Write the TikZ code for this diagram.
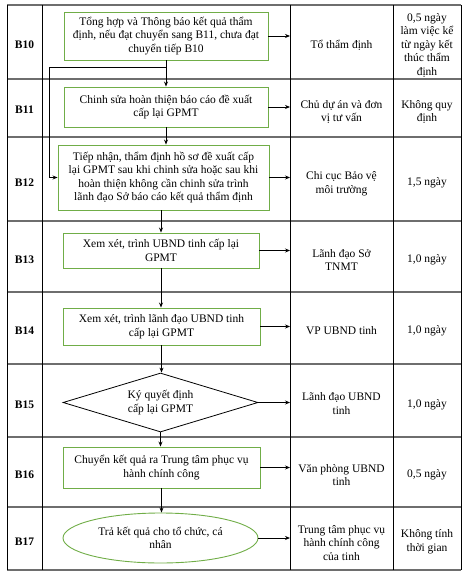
\documentclass[tikz,border=0pt]{standalone}
\usepackage{fontspec}
\setmainfont{Liberation Serif}
\usetikzlibrary{positioning, arrows.meta, shapes.geometric}
\definecolor{leafgreen}{HTML}{70AD47}
\definecolor{rulegrey}{HTML}{6E6E6E}

\begin{document}
\begin{tikzpicture}[
  x=1pt, y=-1pt,
  arr/.style={-{Stealth[length=5pt, width=4pt]}, line width=0.8pt},
  link/.style={line width=0.8pt},
  vrule/.style={line width=0.8pt, draw=black},
  hrule/.style={line width=1.1pt, draw=rulegrey},
  stepbox/.style={
    rectangle, draw=leafgreen, line width=0.9pt,
    align=center, inner sep=1pt,
    font=\fontsize{11.5}{13.5}\selectfont
  },
  stepdiamond/.style={
    diamond, draw=black, line width=0.8pt, aspect=3.3,
    align=center, inner sep=1pt,
    font=\fontsize{11.5}{13.5}\selectfont
  },
  stepend/.style={
    ellipse, draw=leafgreen, line width=0.9pt,
    align=center, inner sep=1pt,
    font=\fontsize{11.5}{13.5}\selectfont
  },
  rowlbl/.style={font=\fontsize{11.5}{13.5}\selectfont\bfseries, inner sep=0pt},
  celltxt/.style={align=center, inner sep=0pt,
    font=\fontsize{11.5}{13.5}\selectfont}
]
\useasboundingbox (0,0) rectangle (466,577);

%% columns: label 7-42, flow 42-290, who 290-393, time 393-461
%% rows: 5, 79, 137, 221, 292, 364, 437, 507, 570

%% ─── TABLE GRID ──────────────────────────────────────────────
\coordinate (whocol) at (290,0);
\draw[hrule] (7,5) -- (461,5);
\draw[hrule] (7,79) -- (461,79);
\draw[hrule] (7,137) -- (461,137);
\draw[hrule] (7,221) -- (461,221);
\draw[hrule] (7,292) -- (461,292);
\draw[hrule] (7,364) -- (461,364);
\draw[hrule] (7,437) -- (461,437);
\draw[hrule] (7,507) -- (461,507);
\draw[hrule] (7,570) -- (461,570);
\draw[vrule] (7,5) -- (7,570);
\draw[vrule] (42,5) -- (42,570);
\draw[vrule] (290,5) -- (290,570);
\draw[vrule] (393,5) -- (393,570);
\draw[vrule] (461,5) -- (461,570);

%% ─── STEP LABELS ─────────────────────────────────────────────
\node[rowlbl] (lbl10) at (24.5,45) {B10};
\node[rowlbl] (lbl11) at (24.5,110) {B11};
\node[rowlbl] (lbl12) at (24.5,183) {B12};
\node[rowlbl] (lbl13) at (24.5,260) {B13};
\node[rowlbl] (lbl14) at (24.5,331) {B14};
\node[rowlbl] (lbl15) at (24.5,405) {B15};
\node[rowlbl] (lbl16) at (24.5,475) {B16};
\node[rowlbl] (lbl17) at (24.5,542) {B17};

%% ─── FLOW COLUMN ─────────────────────────────────────────────
\node[stepbox, minimum width=204pt, minimum height=48pt] (b10) at (166,36)
  {Tổng hợp và Thông báo kết quả thẩm\\định, nếu đạt chuyển sang B11, chưa đạt\\chuyển tiếp B10};
\node[stepbox, minimum width=204pt, minimum height=40pt] (b11) at (166,107)
  {Chinh sửa hoàn thiện báo cáo đề xuất\\cấp lại GPMT};
\node[stepbox, minimum width=211pt, minimum height=65pt] (b12) at (163.5,177.5)
  {Tiếp nhận, thẩm định hồ sơ đề xuất cấp\\lại GPMT sau khi chinh sửa hoặc sau khi\\hoàn thiện không cần chinh sửa trình\\lãnh đạo Sở báo cáo kết quả thẩm định};
\node[stepbox, minimum width=196pt, minimum height=35pt] (b13) at (161,250.5)
  {Xem xét, trình UBND tinh cấp lại\\GPMT};
\node[stepbox, minimum width=197pt, minimum height=37pt] (b14) at (161.5,326.5)
  {Xem xét, trình lãnh đạo UBND tinh\\cấp lại GPMT};
\node[stepdiamond, minimum width=195pt, minimum height=59pt] (b15) at (160.5,402.5)
  {Ký quyết định\\cấp lại GPMT};
\node[stepbox, minimum width=197pt, minimum height=41pt] (b16) at (161.5,467.5)
  {Chuyển kết quả ra Trung tâm phục vụ\\hành chính công};
\node[stepend, minimum width=195pt, minimum height=50pt] (b17) at (160.5,538)
  {Trả kết quả cho tổ chức, cá\\nhân};

\draw[arr] (b10.south) -- (b11.north);
\draw[arr] (b11.south) -- (b11.south |- b12.north);
\draw[arr] (b12.south -| b13.north) -- (b13.north);
\draw[arr] (b13.south) -- (b13.south |- b14.north);
\draw[arr] (b14.south) -- (b14.south |- b15.north);
\draw[arr] (b15.south) -- (b15.south |- b16.north);
\draw[arr] (b16.south) -- (b16.south |- b17.north);

%% loop back: B10 -> B12 when no revision is needed
\coordinate (loopturn) at (49,67);
\draw[arr] (b10.south |- loopturn) -- (loopturn) |- (b12.west);

%% ─── RESPONSIBLE COLUMN ──────────────────────────────────────
\node[celltxt] (who10) at (341.5,45) {Tổ thẩm định};
\node[celltxt] (who11) at (341.5,112) {Chủ dự án và đơn\\vị tư vấn};
\node[celltxt] (who12) at (341.5,183.5) {Chi cục Bảo vệ\\môi trường};
\node[celltxt] (who13) at (341.5,260) {Lãnh đạo Sở\\TNMT};
\node[celltxt] (who14) at (341.5,331) {VP UBND tinh};
\node[celltxt] (who15) at (341.5,403.5) {Lãnh đạo UBND\\tinh};
\node[celltxt] (who16) at (341.5,475) {Văn phòng UBND\\tinh};
\node[celltxt] (who17) at (341.5,543) {Trung tâm phục vụ\\hành chính công\\của tinh};

\draw[arr] (b10.east) -- (b10.east -| whocol);
\draw[arr] (b11.east) -- (b11.east -| whocol);
\draw[arr] (b12.east) -- (b12.east -| whocol);
\draw[arr] (b13.east) -- (b13.east -| whocol);
\draw[arr] (b14.east) -- (b14.east -| whocol);
\draw[arr] (b15.east) -- (b15.east -| whocol);
\draw[arr] (b16.east) -- (b16.east -| whocol);
\draw[arr] (b17.east) -- (b17.east -| whocol);

%% ─── TIME COLUMN ─────────────────────────────────────────────
\node[celltxt] (time10) at (427,45) {0,5 ngày\\làm việc kể\\từ ngày kết\\thúc thẩm\\định};
\node[celltxt] (time11) at (427,112) {Không quy\\định};
\node[celltxt] (time12) at (427,183) {1,5 ngày};
\node[celltxt] (time13) at (427,260) {1,0 ngày};
\node[celltxt] (time14) at (427,331) {1,0 ngày};
\node[celltxt] (time15) at (427,405) {1,0 ngày};
\node[celltxt] (time16) at (427,475) {0,5 ngày};
\node[celltxt] (time17) at (427,541.5) {Không tính\\thời gian};

\end{tikzpicture}
\end{document}
